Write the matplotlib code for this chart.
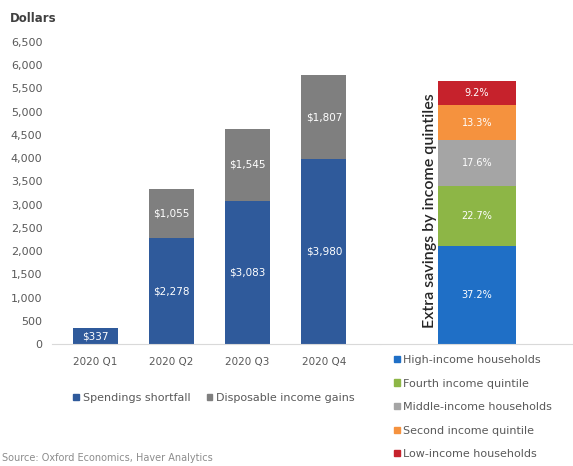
import numpy as np
import matplotlib.pyplot as plt
from matplotlib.patches import Patch

plt.rcParams['font.family'] = ['DejaVu Sans']

# quarterly extra savings, dollars per household
quarters = ['2020 Q1', '2020 Q2', '2020 Q3', '2020 Q4']
spending_shortfall = [337, 2278, 3083, 3980]
income_gains = [0, 1055, 1545, 1807]

# share of extra savings by income quintile, percent (bottom to top)
quintiles = ['High-income households', 'Fourth income quintile',
             'Middle-income households', 'Second income quintile',
             'Low-income households']
quintile_share = [37.2, 22.7, 17.6, 13.3, 9.2]

yticks = np.arange(0, 6501, 500)

blue = '#2F5A9B'
grey = '#7F7F7F'
q_colors = ['#1F6FC6', '#8DB646', '#A5A5A5', '#F5923E', '#C6222C']
txt = '#595959'

W, H = 573, 466
fig = plt.figure(figsize=(W / 100, H / 100), dpi=100)

base = 1 - 344 / H
top_left = 1 - 42 / H
ax = fig.add_axes([52 / W, base, (380 - 52) / W, top_left - base])

x = np.arange(len(quarters))
b1 = ax.bar(x, spending_shortfall, width=0.59, color=blue)
b2 = ax.bar(x, income_gains, width=0.59, bottom=spending_shortfall, color=grey)
ax.bar_label(b1, labels=['${:,}'.format(v) for v in spending_shortfall],
             label_type='center', color='white', fontsize=7.5)
ax.bar_label(b2, labels=['${:,}'.format(v) if v else '' for v in income_gains],
             label_type='center', color='white', fontsize=7.5)

ax.set_xlim(-0.564, 3.734)
ax.set_ylim(0, 6500)
ax.set_yticks(yticks)
ax.set_yticklabels(['{:,}'.format(v) for v in yticks])
ax.set_xticks(x)
ax.set_xticklabels(quarters)
ax.tick_params(axis='both', length=0, labelsize=7.5, colors=txt)
ax.tick_params(axis='y', labelsize=8, pad=7)
ax.tick_params(axis='x', pad=9)
for s in ['top', 'right', 'left']:
    ax.spines[s].set_visible(False)
ax.spines['bottom'].set_color('#D9D9D9')

fig.text(10 / W, 1 - 19 / H, 'Dollars', fontsize=8.5, fontweight='bold',
         color='#404040', va='center')

# quintile breakdown bar
top_right = 1 - 81 / H
ax2 = fig.add_axes([380 / W, base, (W - 380) / W, top_right - base])
bottoms = np.concatenate([[0], np.cumsum(quintile_share)[:-1]])
for share, b, c in zip(quintile_share, bottoms, q_colors):
    bars = ax2.bar(0, share, bottom=b, width=1.0, color=c)
    ax2.bar_label(bars, labels=['{:.1f}%'.format(share)], label_type='center',
                  color='white', fontsize=7)
ax2.set_xlim(-1.244, 1.231)
ax2.set_ylim(0, 100)
ax2.set_xticks([])
ax2.set_yticks([])
for s in ['top', 'right', 'left']:
    ax2.spines[s].set_visible(False)
ax2.spines['bottom'].set_color('#D9D9D9')

fig.text(430 / W, 1 - 211 / H, 'Extra savings by income quintiles',
         rotation=90, fontsize=11.5, color='#262626', fontweight='semibold',
         family='Lato', ha='center', va='center')

# legends
fig.legend(handles=[Patch(color=blue, label='Spendings shortfall'),
                    Patch(color=grey, label='Disposable income gains')],
           loc='center', bbox_to_anchor=(214 / W, 1 - 398 / H), ncol=2,
           frameon=False, fontsize=8, labelcolor=txt, handlelength=0.5,
           handleheight=0.5, handletextpad=0.35, columnspacing=1.5)

fig.legend(handles=[Patch(color=c, label=l) for c, l in zip(q_colors, quintiles)],
           loc='upper left', bbox_to_anchor=(394 / W, 1 - 355 / H),
           frameon=False, fontsize=8, labelcolor=txt, handlelength=0.5,
           handleheight=0.5, handletextpad=0.35, labelspacing=1.22,
           borderaxespad=0, borderpad=0)

fig.text(2 / W, 1 - 458 / H, "Source: Oxford Economics, Haver Analytics",
         fontsize=7, color='#8C8C8C', va='center')

fig.savefig('out.png', dpi=100)
